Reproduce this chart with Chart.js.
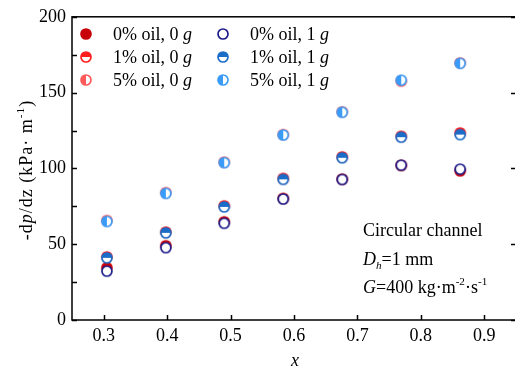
<!DOCTYPE html>
<html>
<head>
<meta charset="utf-8">
<script src="https://cdn.jsdelivr.net/npm/chart.js@4"></script>
<style>
  html, body { margin: 0; padding: 0; background: #fff; overflow: hidden; }
  canvas { display: block; }
</style>
</head>
<body>
<canvas id="chart" width="522" height="371"></canvas>
<script>
'use strict';

// vapour quality x
const quality = [0.305, 0.398, 0.490, 0.583, 0.676, 0.769, 0.862];

// -dp/dz, kPa/m
const oil0g0 = [34.5, 49.0, 64.8, 80.2, 92.9, 102.0, 98.4];
const oil0g1 = [32.2, 47.7, 63.8, 79.8, 92.7, 102.1, 99.5];
const oil1g0 = [41.6, 58.0, 75.3, 93.4, 107.6, 121.2, 123.4];
const oil1g1 = [41.0, 57.5, 74.6, 92.8, 107.0, 120.6, 122.3];
const oil5g0 = [65.6, 84.0, 104.1, 122.3, 137.3, 157.6, 169.6];
const oil5g1 = [65.0, 83.5, 103.8, 122.0, 137.0, 158.2, 169.3];

const xTicks = [0.3, 0.4, 0.5, 0.6, 0.7, 0.8, 0.9];
const yTicks = [0, 25, 50, 75, 100, 125, 150, 175, 200];
const yLabelled = [0, 50, 100, 150, 200];

const FONT = '"Liberation Serif", "Times New Roman", serif';

// small canvases used as point styles (half filled circles)
function makeMarker(color, kind) {
  const c = document.createElement('canvas');
  c.width = 14; c.height = 14;
  const g = c.getContext('2d');
  const cx = 7, cy = 7, r = 5;
  g.lineWidth = 1.7;
  g.fillStyle = kind === 'full' ? color : '#fff';
  g.beginPath(); g.arc(cx, cy, r, 0, Math.PI * 2); g.fill();
  g.fillStyle = color;
  if (kind === 'top') { g.beginPath(); g.arc(cx, cy, r, Math.PI, Math.PI * 2); g.closePath(); g.fill(); }
  if (kind === 'left') { g.beginPath(); g.arc(cx, cy, r, Math.PI / 2, Math.PI * 1.5); g.closePath(); g.fill(); }
  g.strokeStyle = color;
  g.beginPath(); g.arc(cx, cy, r, 0, Math.PI * 2); g.stroke();
  return c;
}

const series = [
  { label: ['0% oil, 0 ', 'g'], data: oil0g0, color: '#c8000a', kind: 'full', order: 2, col: 0, row: 0 },
  { label: ['0% oil, 1 ', 'g'], data: oil0g1, color: '#1c1c8a', kind: 'open', order: 1, col: 1, row: 0 },
  { label: ['1% oil, 0 ', 'g'], data: oil1g0, color: '#ff1e1e', kind: 'top', order: 2, col: 0, row: 1 },
  { label: ['1% oil, 1 ', 'g'], data: oil1g1, color: '#1a6cc8', kind: 'top', order: 1, col: 1, row: 1 },
  { label: ['5% oil, 0 ', 'g'], data: oil5g0, color: '#ff5a5a', kind: 'left', order: 2, col: 0, row: 2 },
  { label: ['5% oil, 1 ', 'g'], data: oil5g1, color: '#3a9cf8', kind: 'left', order: 1, col: 1, row: 2 },
];
series.forEach(s => { s.marker = makeMarker(s.color, s.kind); });

// text made of runs: {t, i (italic), sup, sub}
function setFont(ctx, r, size) {
  const sz = (r.sup || r.sub) ? size * 0.62 : size;
  ctx.font = (r.i ? 'italic ' : '') + sz + 'px ' + FONT;
}
function runWidth(ctx, runs, size) {
  let w = 0;
  runs.forEach(r => { setFont(ctx, r, size); w += ctx.measureText(r.t).width; });
  return w;
}
function drawRuns(ctx, runs, x, y, size) {
  ctx.textBaseline = 'alphabetic';
  ctx.textAlign = 'left';
  runs.forEach(r => {
    setFont(ctx, r, size);
    const dy = r.sup ? -size * 0.42 : r.sub ? size * 0.22 : 0;
    ctx.fillText(r.t, x, y + dy);
    x += ctx.measureText(r.t).width;
  });
}

const decor = {
  id: 'decor',
  afterDraw(chart) {
    const ctx = chart.ctx;
    const a = chart.chartArea;
    const xs = chart.scales.x, ys = chart.scales.y;
    ctx.save();
    ctx.strokeStyle = '#000';
    ctx.lineWidth = 1.5;
    ctx.strokeRect(a.left, a.top, a.right - a.left, a.bottom - a.top);
    // inward ticks
    ctx.beginPath();
    xTicks.forEach(v => {
      const px = Math.round(xs.getPixelForValue(v)) + 0.5;
      ctx.moveTo(px, a.bottom); ctx.lineTo(px, a.bottom - 5);
    });
    yTicks.forEach(v => {
      const py = Math.round(ys.getPixelForValue(v)) + 0.5;
      ctx.moveTo(a.left, py); ctx.lineTo(a.left + 5, py);
      if (yLabelled.includes(v)) { ctx.moveTo(a.right, py); ctx.lineTo(a.right - 5, py); }
    });
    ctx.stroke();

    ctx.fillStyle = '#000';
    // legend
    series.forEach(s => {
      const mx = 86 + s.col * 137, my = 34 + s.row * 23;
      ctx.drawImage(s.marker, mx - 7, my - 7);
      drawRuns(ctx, [{ t: s.label[0] }, { t: s.label[1], i: true }], mx + 27, my + 6, 18);
    });

    // annotation
    drawRuns(ctx, [{ t: 'Circular channel' }], 363, 236, 18);
    drawRuns(ctx, [{ t: 'D', i: true }, { t: 'h', i: true, sub: true }, { t: '=1 mm' }], 363, 265, 18);
    drawRuns(ctx, [{ t: 'G', i: true }, { t: '=400 kg·m' }, { t: '-2', sup: true }, { t: '·s' }, { t: '-1', sup: true }], 363, 293, 18);

    // axis titles
    const xt = [{ t: 'x', i: true }];
    drawRuns(ctx, xt, 295 - runWidth(ctx, xt, 18) / 2, 366, 18);
    const yt = [{ t: '-d' }, { t: 'p', i: true }, { t: '/dz (kPa· m' }, { t: '-1', sup: true }, { t: ')' }];
    ctx.letterSpacing = '1px';
    ctx.translate(32, 170);
    ctx.rotate(-Math.PI / 2);
    drawRuns(ctx, yt, -runWidth(ctx, yt, 18) / 2, 0, 18);
    ctx.restore();
  }
};

new Chart(document.getElementById('chart'), {
  type: 'scatter',
  data: {
    datasets: series.map(s => ({
      label: s.label.join(''),
      data: quality.map((q, i) => ({ x: q, y: s.data[i] })),
      pointStyle: s.marker,
      pointRadius: 5,
      order: s.order,
    }))
  },
  options: {
    responsive: false,
    animation: false,
    layout: { padding: { top: 15, right: 4, left: 0, bottom: 0 } },
    plugins: { legend: { display: false }, tooltip: { enabled: false } },
    scales: {
      x: {
        type: 'linear', min: 0.25, max: 0.95,
        grid: { display: false, drawTicks: false },
        border: { display: false },
        afterBuildTicks: sc => { sc.ticks = xTicks.map(v => ({ value: v })); },
        afterFit: sc => { sc.height = 51; },
        ticks: { color: '#000', padding: 5, font: { family: FONT, size: 18 }, callback: v => v.toFixed(1), maxRotation: 0 }
      },
      y: {
        type: 'linear', min: 0, max: 200,
        grid: { display: false, drawTicks: false },
        border: { display: false },
        afterBuildTicks: sc => { sc.ticks = yTicks.map(v => ({ value: v })); },
        afterFit: sc => { sc.width = 72; },
        ticks: { color: '#000', padding: 6, font: { family: FONT, size: 18 }, callback: v => yLabelled.includes(v) ? String(v) : '' }
      }
    }
  },
  plugins: [decor]
});
</script>
</body>
</html>
